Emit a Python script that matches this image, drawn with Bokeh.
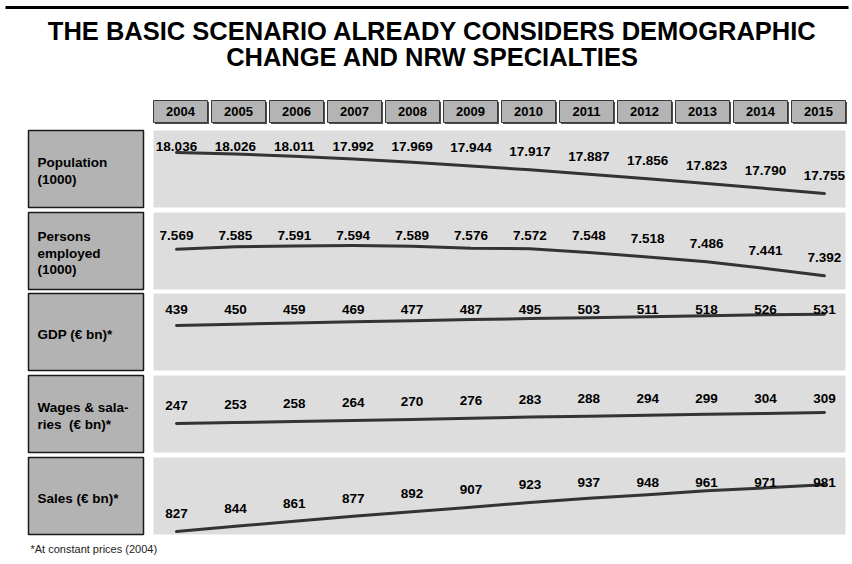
from bokeh.plotting import figure
from bokeh.models import Range1d, ColumnDataSource
from bokeh.core.properties import value
from bokeh.embed import file_html
from bokeh.resources import INLINE

# ---------------- data ----------------
title_lines = ["THE BASIC SCENARIO ALREADY CONSIDERS DEMOGRAPHIC",
               "CHANGE AND NRW SPECIALTIES"]
years = [2004, 2005, 2006, 2007, 2008, 2009, 2010, 2011, 2012, 2013, 2014, 2015]
population = [18.036, 18.026, 18.011, 17.992, 17.969, 17.944, 17.917, 17.887, 17.856, 17.823, 17.790, 17.755]
employed = [7.569, 7.585, 7.591, 7.594, 7.589, 7.576, 7.572, 7.548, 7.518, 7.486, 7.441, 7.392]
gdp = [439, 450, 459, 469, 477, 487, 495, 503, 511, 518, 526, 531]
wages = [247, 253, 258, 264, 270, 276, 283, 288, 294, 299, 304, 309]
sales = [827, 844, 861, 877, 892, 907, 923, 937, 948, 961, 971, 981]
row_labels = [["Population", "(1000)"],
              ["Persons", "employed", "(1000)"],
              ["GDP (\u20ac bn)*"],
              ["Wages & sala-", "ries \u00a0(\u20ac bn)*"],
              ["Sales (\u20ac bn)*"]]
row_fmt = ["{:.3f}", "{:.3f}", "{:d}", "{:d}", "{:d}"]
footnote = "*At constant prices (2004)"
series = [population, employed, gdp, wages, sales]

# ---------------- layout ----------------
W, H = 852, 564
FONT = value("Liberation Sans")
row_tops = [130, 212, 293, 375, 457]
row_h = 77
# pixel rows where each series' max and min sit
anchors = [(152, 193), (245, 275.3), (313.7, 325), (412, 423), (484.3, 531)]
label_caps = [146, 235, 309, 398, 482]
label_gap = 18
x_first, x_step = 176, 58.9

p = figure(width=W, height=H, x_range=Range1d(0, W), y_range=Range1d(H, 0),
           output_backend="svg", toolbar_location=None, min_border=0,
           background_fill_color="white", border_fill_color="white")
p.axis.visible = False
p.grid.visible = False
p.outline_line_color = None

p.extra_x_ranges = {"yr": Range1d(years[0] - x_first / x_step,
                                  years[0] + (W - x_first) / x_step)}

# top rule
p.line(x=[5, 848], y=[7, 7], line_color="black", line_width=3)

# title
for i, t in enumerate(title_lines):
    p.text(x=[432], y=[30 + 26 * i], text=[t], text_font=FONT, text_font_style="bold",
           text_font_size="25.5px", text_align="center", text_baseline="middle",
           text_color="black")

# year header boxes
yl = [153 + 58 * i for i in range(len(years))]
yr_ = [v + 54 for v in yl]
p.quad(left=[v + 1.5 for v in yl], right=[v + 1.5 for v in yr_],
       top=[101.5] * len(years), bottom=[123.5] * len(years),
       fill_color="#4d4d4d", line_color=None)
p.quad(left=yl, right=yr_, top=[100] * len(years), bottom=[122] * len(years),
       fill_color="#b4b4b4", line_color="#3a3a3a", line_width=1)
p.text(x=[(a + b) / 2 for a, b in zip(yl, yr_)], y=[111] * len(years),
       text=[str(y) for y in years], text_font=FONT, text_font_style="bold",
       text_font_size="13px", text_align="center", text_baseline="middle",
       text_color="black")

# rows
for r, vals in enumerate(series):
    top = row_tops[r]
    bot = top + row_h
    p.quad(left=[28], right=[143], top=[top], bottom=[bot],
           fill_color="#b3b3b3", line_color="#1a1a1a", line_width=1.5)
    p.quad(left=[153], right=[845], top=[top], bottom=[bot],
           fill_color="#dddddd", line_color=None)
    lines = row_labels[r]
    cy = top + row_h / 2 + 2
    for k, s in enumerate(lines):
        p.text(x=[37], y=[cy + (k - (len(lines) - 1) / 2) * 16.5], text=[s],
               text_font=FONT, text_font_style="bold", text_font_size="13.5px",
               text_align="left", text_baseline="middle", text_color="black")

    vmax, vmin = max(vals), min(vals)
    p_hi, p_lo = anchors[r]
    s = (vmax - vmin) / (p_lo - p_hi)
    name = "row%d" % r
    p.extra_y_ranges[name] = Range1d(start=vmax - (H - p_hi) * s, end=vmax + p_hi * s)
    p.line(x=years, y=vals, x_range_name="yr", y_range_name=name,
           line_color="#333333", line_width=3, line_cap="round", line_join="round")
    cap_v = vmax + (p_hi - label_caps[r]) * s
    lab_y = [min(v + label_gap * s, cap_v) for v in vals]
    src = ColumnDataSource(dict(x=years, y=lab_y, t=[row_fmt[r].format(v) for v in vals]))
    p.text(x="x", y="y", text="t", source=src, x_range_name="yr", y_range_name=name,
           text_font=FONT, text_font_style="bold", text_font_size="13.5px",
           text_align="center", text_baseline="middle", text_color="black")

# footnote
p.text(x=[30], y=[548], text=[footnote], text_font=FONT, text_font_size="11px",
       text_align="left", text_baseline="middle", text_color="#222222")

open("out.html", "w").write(file_html(p, INLINE))
